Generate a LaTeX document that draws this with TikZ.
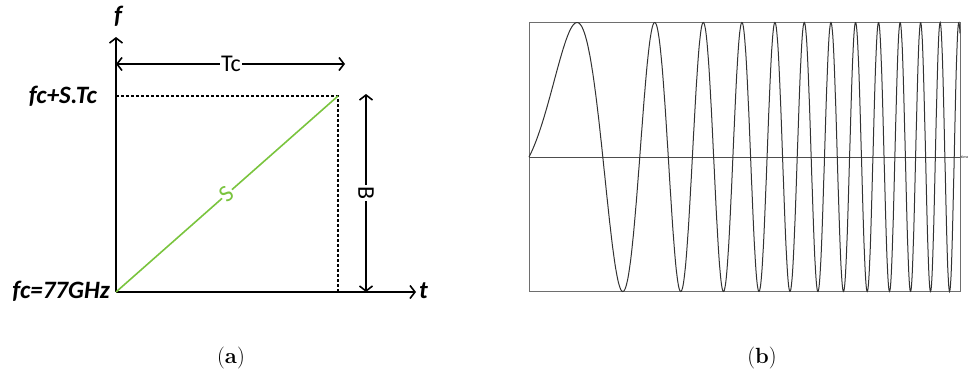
\documentclass[tikz,border=0pt]{standalone}
\usepackage{fontspec}
\newfontfamily\calfont{Carlito}
\usetikzlibrary{arrows.meta}
\definecolor{chirpgreen}{RGB}{122,196,62}
\definecolor{wavegray}{RGB}{50,50,50}
\definecolor{boxgray}{RGB}{110,110,110}
\tikzset{
  axisline/.style={line width=1.8pt, black},
  barb/.style={-{Straight Barb[length=5pt,width=13pt,line width=1.6pt]}},
  dblbarb/.style={{Straight Barb[length=5pt,width=13pt,line width=1.6pt]}-{Straight Barb[length=5pt,width=13pt,line width=1.6pt]}},
  dashline/.style={line width=1.2pt, dash pattern=on 3pt off 2pt},
  lbl/.style={font=\calfont\bfseries\itshape\fontsize{25}{29}\selectfont, inner sep=0pt},
  dimlbl/.style={font=\calfont\fontsize{24}{28}\selectfont, inner sep=1.5pt, fill=white},
  capstyle/.style={font=\fontsize{22}{26}\selectfont, inner sep=0pt}
}
\begin{document}
\begin{tikzpicture}[x=1pt,y=-1pt]
\useasboundingbox (0,0) rectangle (968,389);
% ---------- panel (a)
\coordinate (O) at (116,292);
\coordinate (ftop) at (116,37);
\coordinate (tend) at (416,292);
\coordinate (P) at (338,96);
\coordinate (Pb) at (338,292);
\coordinate (Py) at (116,96);
\coordinate (tcL) at (116,64);
\coordinate (tcR) at (345,64);
\coordinate (bT) at (366,94);
\coordinate (bB) at (366,292);
\draw[axisline,barb] (O) -- (ftop);
\draw[axisline,barb] (O) -- (tend);
\node[lbl] (flab) at (118,16) {f};
\node[lbl, anchor=west] (tlab) at (419,291) {t};
\draw[dashline] (Py) -- (P) -- (Pb);
\draw[chirpgreen, line width=1.6pt] (O) -- (P);
\node[font=\calfont\fontsize{24}{28}\selectfont, text=chirpgreen, fill=white, inner sep=1pt, rotate=41.4] (slab) at (227,194) {S};
\draw[line width=1.6pt, black, dblbarb] (tcL) -- (tcR);
\node[dimlbl] (tclab) at (231,64) {Tc};
\draw[line width=1.6pt, black, dblbarb] (bT) -- (bB);
\node[dimlbl, rotate=-90] (blab) at (366,193) {B};
\node[lbl, anchor=east] (ftoplab) at (97,96) {fc+S.Tc};
\node[lbl, anchor=east] (fclab) at (110,291) {fc=77GHz};
\node[capstyle] (capa) at (231,358) {(\textbf{a})};
% ---------- panel (b)
\node[draw=boxgray, line width=0.8pt, minimum width=431pt, minimum height=269pt, inner sep=0pt, anchor=north west] (box) at (529,22) {};
\coordinate (axL) at (529,157);
\coordinate (axR) at (960,157);
\draw[boxgray!70!black, line width=1pt] (axL) -- (axR);
\node[font=\sffamily\fontsize{4}{5}\selectfont, anchor=west, inner sep=0pt] (timelab) at (960.6,157) {time};
\draw[wavegray, line width=1pt] plot[domain=0:431, samples=1200, smooth]
  ({\x+529}, {157-134.5*sin(180*(0.004553*\x + 0.00012432*\x*\x))});
\node[capstyle] (capb) at (762,358) {(\textbf{b})};
\end{tikzpicture}
\end{document}
